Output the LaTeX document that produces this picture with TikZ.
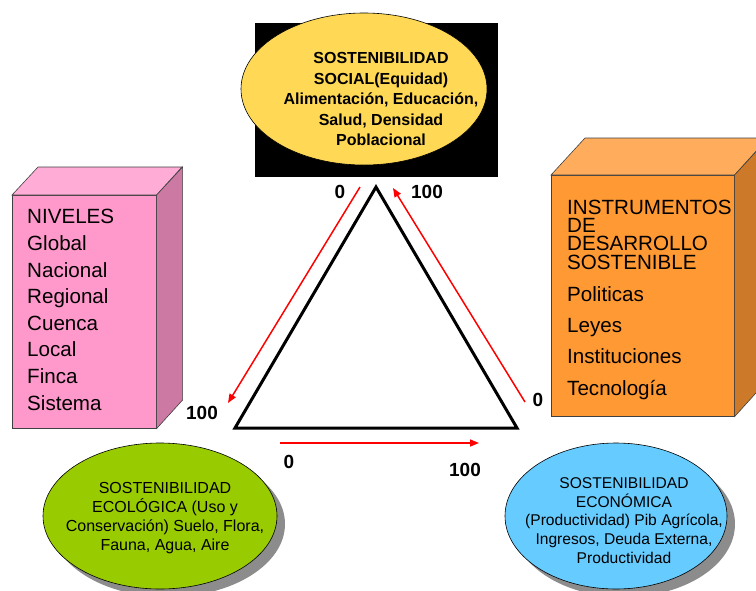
\documentclass[tikz,border=0pt]{standalone}
\usepackage{fontspec}
\setmainfont{Liberation Sans}
\usetikzlibrary{arrows.meta,shadows,shapes.geometric}
\definecolor{yellowE}{HTML}{FFD955}
\definecolor{greenE}{HTML}{99CC00}
\definecolor{blueE}{HTML}{66CCFF}
\definecolor{pinkF}{HTML}{FF99CC}
\definecolor{pinkT}{HTML}{FFADD6}
\definecolor{pinkS}{HTML}{CC7AA3}
\definecolor{orangeF}{HTML}{FF9933}
\definecolor{orangeT}{HTML}{FFAD5C}
\definecolor{orangeS}{HTML}{CC7A29}
\begin{document}
\begin{tikzpicture}[x=1pt,y=-1pt,
  lbl/.style={font=\fontsize{19}{22}\selectfont\bfseries,inner sep=0pt},
  redarrow/.style={red,line width=1.5pt,-{Triangle[length=9pt,width=7pt]}},
  ell/.style={ellipse,draw=black,line width=0.6pt,inner sep=0pt},
  shade/.style={drop shadow={shadow xshift=8pt,shadow yshift=-8pt,fill=black!45,opacity=1}},
  facebox/.style={draw=black!75,line width=0.6pt,inner sep=0pt,anchor=north west},
  boxtxt/.style={align=left,inner sep=0pt,anchor=west},
  elltxt/.style={align=center,inner sep=0pt}
]
\useasboundingbox (0,0) rectangle (756,590);

% top: social
\node[fill=black,minimum width=243pt,minimum height=154pt,inner sep=0pt] (blk) at (376.5,100) {};
\node[ell,fill=yellowE,minimum width=246pt,minimum height=152pt] (soc) at (364,89) {};
\node[elltxt,font=\fontsize{16}{20.5}\selectfont\bfseries] (soct) at (381,99)
  {SOSTENIBILIDAD\\SOCIAL(Equidad)\\Alimentación, Educación,\\Salud, Densidad\\Poblacional};

% triangle
\coordinate (A) at (376,187);
\coordinate (B) at (235,428);
\coordinate (C) at (517,428);
\draw[line width=3pt,line join=miter] (A) -- (B) -- (C) -- cycle;

% red arrows
\coordinate (a1) at (360,187); \coordinate (a2) at (228,403);
\coordinate (b1) at (525,402); \coordinate (b2) at (393,188);
\coordinate (c1) at (280,443); \coordinate (c2) at (479,443);
\draw[redarrow] (a1) -- (a2);
\draw[redarrow] (b1) -- (b2);
\draw[redarrow] (c1) -- (c2);

% labels
\node[lbl] (l1) at (340,192) {0};
\node[lbl] (l2) at (427,192) {100};
\node[lbl] (l3) at (202,413) {100};
\node[lbl] (l4) at (538,400) {0};
\node[lbl] (l5) at (289,462) {0};
\node[lbl] (l6) at (465,470) {100};

% left box
\node[facebox,fill=pinkF,minimum width=144pt,minimum height=233pt] (niv) at (12,195) {};
\filldraw[fill=pinkT,draw=black!75,line width=0.6pt] (niv.north west) -- ++(26,-28) -- ++(144,0) -- (niv.north east) -- cycle;
\filldraw[fill=pinkS,draw=black!75,line width=0.6pt] (niv.north east) -- ++(26,-28) -- ++(0,233) -- (niv.south east) -- cycle;
\node[boxtxt,font=\fontsize{20.6}{26.6}\selectfont] (nivt) at (27,310)
  {NIVELES\\Global\\Nacional\\Regional\\Cuenca\\Local\\Finca\\Sistema};

% right box
\node[facebox,fill=orangeF,minimum width=183pt,minimum height=241pt] (ins) at (551,175) {};
\filldraw[fill=orangeT,draw=black!75,line width=0.6pt] (ins.north west) -- ++(34,-37) -- ++(183,0) -- (ins.north east) -- cycle;
\filldraw[fill=orangeS,draw=black!75,line width=0.6pt] (ins.north east) -- ++(34,-37) -- ++(0,241) -- (ins.south east) -- cycle;
\node[boxtxt,font=\fontsize{20.6}{18.3}\selectfont] (inst1) at (567,234.5)
  {INSTRUMENTOS\\DE\\DESARROLLO\\SOSTENIBLE};
\node[boxtxt,font=\fontsize{20.6}{31.3}\selectfont] (inst2) at (567,343)
  {Politicas\\Leyes\\Instituciones\\Tecnología};

% bottom ellipses
\node[ell,shade,fill=greenE,minimum width=234pt,minimum height=146pt] (eco) at (160,516) {};
\node[elltxt,font=\fontsize{16}{19}\selectfont] (ecot) at (165,518.5)
  {SOSTENIBILIDAD\\ECOLÓGICA (Uso y\\Conservación) Suelo, Flora,\\Fauna, Agua, Aire};
\node[ell,shade,fill=blueE,minimum width=222pt,minimum height=146pt] (ecn) at (616,516) {};
\node[elltxt,font=\fontsize{15.6}{18.7}\selectfont] (ecnt) at (624,520.5)
  {SOSTENIBILIDAD\\ECONÓMICA\\(Productividad) Pib Agrícola,\\Ingresos, Deuda Externa,\\Productividad};
\end{tikzpicture}
\end{document}
